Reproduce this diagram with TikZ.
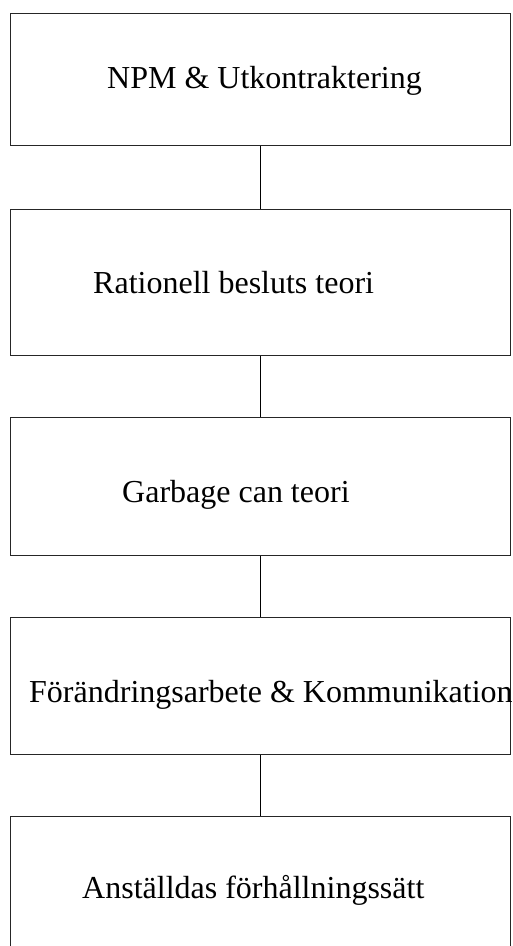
\documentclass[tikz,border=0pt]{standalone}
\usepackage{fontspec}
\setmainfont{Liberation Serif}
\begin{document}
\begin{tikzpicture}[x=1pt,y=-1pt,
  box/.style={draw=black!85, line width=1.1pt, rectangle, minimum width=500pt, inner sep=0pt, anchor=north west},
  lbl/.style={anchor=base west, inner sep=0pt, font=\fontsize{32}{38}\selectfont},
  conn/.style={draw=black, line width=1.4pt}]
\clip (0,0) rectangle (512,946);
\fill[white] (0,0) rectangle (512,946);
\node[box, minimum height=132pt] (b1) at (10,13) {};
\node[box, minimum height=146pt] (b2) at (10,209) {};
\node[box, minimum height=138pt] (b3) at (10,417) {};
\node[box, minimum height=137pt] (b4) at (10,617) {};
\node[box, minimum height=160pt] (b5) at (10,816) {};
\node[lbl] (t1) at (107,88) {NPM \& Utkontraktering};
\node[lbl] (t2) at (93,293) {Rationell besluts teori};
\node[lbl] (t3) at (122,502) {Garbage can teori};
\node[lbl] (t4) at (29,702) {Förändringsarbete \& Kommunikation};
\node[lbl] (t5) at (82,898) {Anställdas förhållningssätt};
\draw[conn] (b1.south) -- (b2.north);
\draw[conn] (b2.south) -- (b3.north);
\draw[conn] (b3.south) -- (b4.north);
\draw[conn] (b4.south) -- (b5.north);
\end{tikzpicture}
\end{document}
